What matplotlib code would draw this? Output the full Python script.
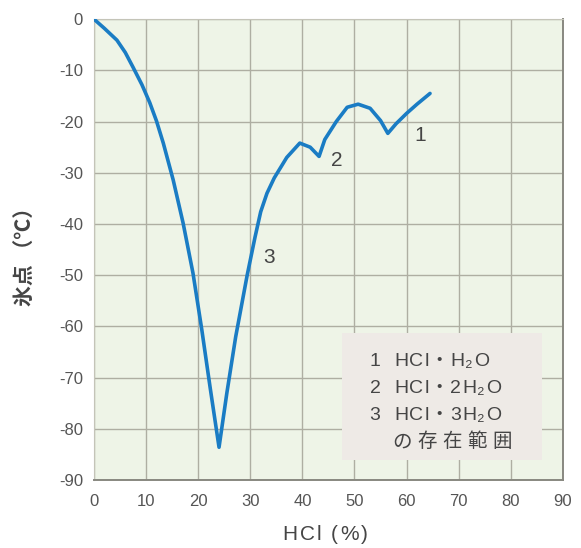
import matplotlib
matplotlib.use("Agg")
import matplotlib.pyplot as plt
from matplotlib.transforms import IdentityTransform
import numpy as np

plt.rcParams["font.family"] = ["Liberation Sans", "Noto Sans CJK JP", "DejaVu Sans"]
plt.rcParams["axes.unicode_minus"] = False

# freezing point curve of HCl solution
hcl_pct = [0, 2, 4.4, 6.0, 7.5, 9.2, 10.7, 12.0, 13.3, 15.2, 17.1, 19.0, 20.7, 22.3, 24.0,
           25.5, 27.2, 29.4, 30.9, 32.0, 33.2, 34.6, 37.0, 39.5, 41.5, 43.2,
           44.3, 46.5, 48.6, 50.7, 53.0, 55.0, 56.4, 58.0, 60.0, 62.0, 64.5]
freeze_c = [0, -1.8, -4.1, -6.5, -9.4, -12.8, -16.3, -19.9, -24.2, -31.4, -39.8, -49.6,
            -60.7, -72.0, -83.6,
            -73.0, -62.0, -50.0, -42.6, -37.6, -34.0, -31.0, -27.0, -24.2, -25.0, -26.8,
            -23.5, -20.0, -17.2, -16.6, -17.4, -19.8, -22.3, -20.4, -18.4, -16.6, -14.5]

phase_labels = ["1", "2", "3"]
phase_x = [62.6, 46.6, 33.6]
phase_y = [-22.7, -27.5, -46.6]

legend_lines = ["1  HCl・H₂O", "2  HCl・2H₂O", "3  HCl・3H₂O", "の存在範囲"]

TEXT = "#454545"


def tracked_text(fig, x_px, y_px, s, size, tracking, ha="left", **kw):
    """Draw s char by char with extra letter spacing (display pixels, baseline)."""
    renderer = fig.canvas.get_renderer()

    def width(txt):
        t = fig.text(0, 0, txt, fontsize=size, **kw)
        w = t.get_window_extent(renderer).width
        t.remove()
        return w

    base = width("HH")
    adv = [width("H" + ch + "H") - base + tracking for ch in s]
    if ha == "center":
        x_px -= (sum(adv) - tracking) / 2
    for ch, a in zip(s, adv):
        if ch != " ":
            fig.text(x_px, y_px, ch, fontsize=size, ha="left", va="baseline",
                     transform=IdentityTransform(), **kw)
        x_px += a


fig = plt.figure(figsize=(5.81, 5.48), dpi=100)
ax = fig.add_axes([0.1618, 0.124, 0.807, 0.841])
ax.set_facecolor("#eef4e7")

ax.plot(hcl_pct, freeze_c, color="#1a7cc4", linewidth=2.6, solid_capstyle="round",
        solid_joinstyle="round", zorder=3)

for lab, x, y in zip(phase_labels, phase_x, phase_y):
    ax.text(x, y, lab, fontsize=15, color=TEXT, ha="center", va="center", zorder=4)

# legend box
ax.add_patch(plt.Rectangle((47.6, -86.1), 38.4, 24.8, facecolor="#eeeae6",
                           edgecolor="none", zorder=2))

ax.set_xlim(0, 90)
ax.set_ylim(-90, 0)
ax.set_xticks(np.arange(0, 91, 10))
ax.set_yticks(np.arange(-90, 1, 10))
ax.grid(True, color="#aeaea2", linewidth=1.0, zorder=1)
ax.set_axisbelow(True)
ax.tick_params(length=0, labelsize=12, labelcolor="#555555")
ax.tick_params(axis="x", pad=10)
ax.tick_params(axis="y", pad=8)
for side in ["top", "left"]:
    ax.spines[side].set_color("#c4c4b8")
for side in ["bottom", "right"]:
    ax.spines[side].set_color("#888880")
    ax.spines[side].set_linewidth(1.4)

H_PX = fig.get_figheight() * fig.dpi

# legend text, letter-spaced like the original
for i, line in enumerate(legend_lines):
    x0, y0 = ax.transData.transform((52.9, -67.75 - i * 5.27))
    if i == 3:
        x0, _ = ax.transData.transform((57.3, 0))
        tracked_text(fig, x0, y0, line, 14, 5.5, color=TEXT)
    else:
        tracked_text(fig, x0, y0, line, 14, 1.0, color=TEXT)

# axis titles
tracked_text(fig, 325, H_PX - 540, "HCl (%)", 15, 2.0, ha="center", color=TEXT)
fig.text(24, H_PX - 251, "氷点 （℃）", fontsize=15, rotation=90, ha="center",
         va="center", color=TEXT, fontweight="bold", transform=IdentityTransform(),
         family=["Noto Sans CJK JP", "DejaVu Sans"])

fig.savefig("out.png", dpi=100)
